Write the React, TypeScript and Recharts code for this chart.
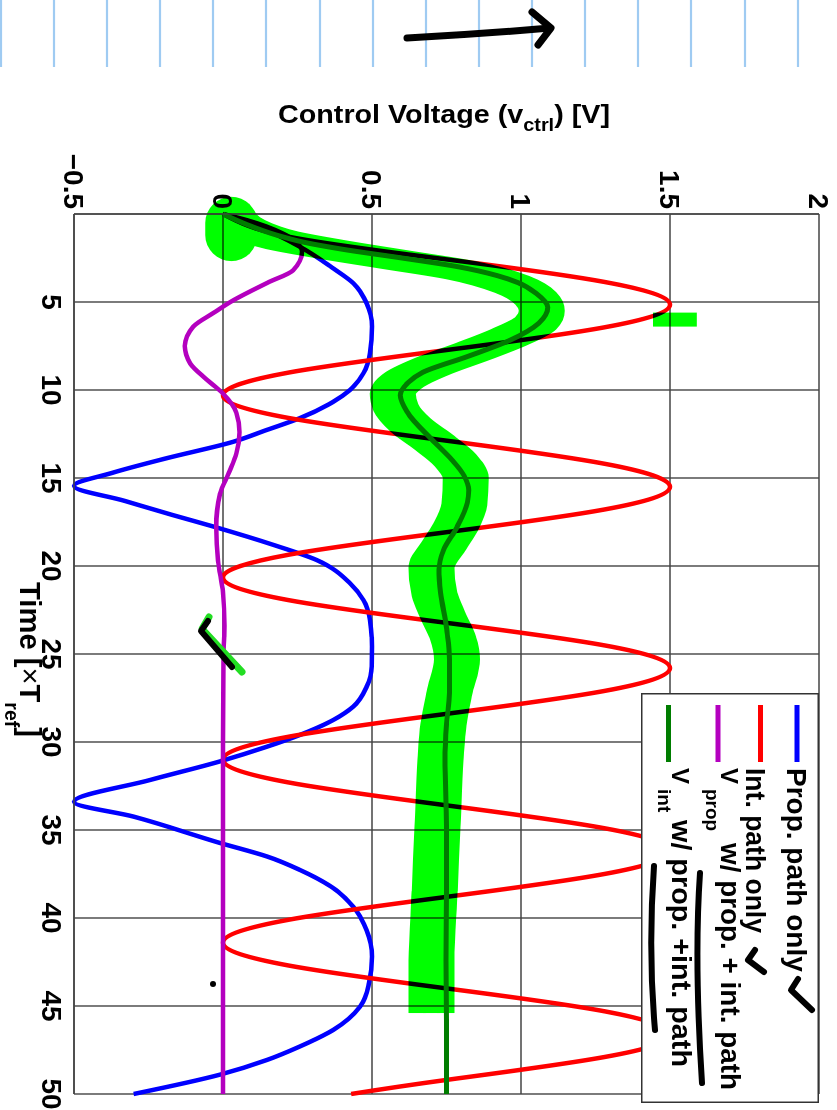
import React from 'react';
import { LineChart, Line, XAxis, YAxis, CartesianGrid } from 'recharts';

const FONT = '"Liberation Sans", Arial, Helvetica, sans-serif';

// ---- axes ----
const timeTicks = [5, 10, 15, 20, 25, 30, 35, 40, 45, 50];
const voltTicks = [-0.5, 0, 0.5, 1, 1.5, 2];
const voltTickLabels = ['\u22120.5', '0', '0.5', '1', '1.5', '2'];

// ---- series: Prop. path only (blue) ----
const propOnlyT = [0, 0.8, 1.86, 3.09, 3.93, 5.07, 6.4, 7.9, 9.05, 10.0, 10.67, 11.6, 12.27, 12.94, 13.88, 14.7, 15.45, 16.3, 17.1, 17.77, 18.8, 19.66, 20.98, 21.93, 23.07, 24.58, 25.7, 26.86, 27.99, 28.75, 29.6, 30.27, 31.1, 32.16, 33.4, 34.24, 35.74, 36.5, 37.27, 38.3, 39.36, 40.7, 42.2, 43.7, 45.04, 46.36, 47.3, 48.07, 48.9, 50];
const propOnlyV = [0, 0.13, 0.258, 0.37, 0.437, 0.482, 0.5, 0.493, 0.471, 0.426, 0.37, 0.258, 0.147, 0.035, -0.19, -0.37, -0.5, -0.33, -0.17, -0.03, 0.169, 0.314, 0.426, 0.471, 0.493, 0.5, 0.499, 0.482, 0.437, 0.37, 0.258, 0.147, -0.01, -0.245, -0.5, -0.3, -0.01, 0.147, 0.258, 0.37, 0.437, 0.482, 0.5, 0.49, 0.46, 0.37, 0.258, 0.147, -0.01, -0.3];

// ---- series: Int. path only (red) ----
const intOnlyT = [0, 1.29, 2.58, 3.86, 5.15, 6.44, 7.73, 9.01, 10.3, 11.59, 12.88, 14.19, 15.5, 16.79, 18.08, 19.36, 20.65, 21.94, 23.23, 24.51, 25.8, 27.1, 28.4, 29.7, 31.0, 32.3, 33.6, 34.9, 36.2, 37.5, 38.8, 40.1, 41.4, 42.7, 44.0, 45.3, 46.6, 47.9, 49.2, 50];
const intOnlyV = [0, 0.22, 0.75, 1.28, 1.5, 1.28, 0.75, 0.22, 0, 0.22, 0.75, 1.28, 1.5, 1.28, 0.75, 0.22, 0, 0.22, 0.75, 1.28, 1.5, 1.28, 0.75, 0.22, 0, 0.22, 0.75, 1.28, 1.5, 1.28, 0.75, 0.22, 0, 0.22, 0.75, 1.28, 1.5, 1.28, 0.75, 0.43];

// ---- series: V_prop w/ prop. + int. path (magenta) ----
const vPropT = [0, 0.35, 1.1, 2.15, 3.2, 3.9, 4.9, 5.6, 6.4, 7.5, 8.5, 9.4, 10.2, 11.3, 12.4, 13.6, 14.7, 15.9, 17.8, 19.7, 21.5, 23.4, 25, 30, 40, 50];
const vPropV = [0, 0.08, 0.2, 0.265, 0.235, 0.15, 0.035, -0.03, -0.1, -0.128, -0.11, -0.055, 0, 0.045, 0.055, 0.045, 0.02, -0.01, -0.023, -0.017, 0, 0.005, 0.002, 0, 0, 0];

// ---- series: V_int w/ prop. + int. path (dark green) ----
const vIntT = [0, 0.6, 1.2, 1.6, 2.0, 2.5, 3.0, 3.5, 3.9, 4.5, 5.3, 6.2, 7.2, 8.1, 9.0, 9.6, 10.3, 11.3, 12.8, 14.0, 14.9, 15.7, 16.4, 17.8, 19.1, 20.2, 21.5, 23.5, 25.3, 27.2, 29, 31, 34.8, 38, 42.4, 46, 50];
const vIntV = [0, 0.08, 0.18, 0.27, 0.4, 0.6, 0.79, 0.92, 0.99, 1.05, 1.09, 1.06, 0.96, 0.82, 0.67, 0.62, 0.595, 0.62, 0.7, 0.77, 0.81, 0.825, 0.82, 0.785, 0.74, 0.725, 0.73, 0.75, 0.76, 0.76, 0.75, 0.745, 0.75, 0.75, 0.748, 0.75, 0.75];

// ---- hand-drawn highlighter trace ----
const highlightT = [0, 0.8, 1.5, 2.0, 2.6, 3.2, 4.0, 4.8, 5.5, 6.2, 7.0, 7.8, 8.6, 9.4, 10.2, 11.0, 12.0, 13.0, 14.0, 15.0, 16.5, 17.8, 18.75, 20.1, 21.6, 22.9, 24.0, 25.3, 27.2, 29, 31, 34.8, 38.6, 42.4, 45.4];
const highlightV = [0.03, 0.08, 0.2, 0.36, 0.58, 0.8, 0.97, 1.05, 1.07, 1.05, 0.96, 0.84, 0.71, 0.61, 0.57, 0.58, 0.63, 0.71, 0.78, 0.815, 0.81, 0.78, 0.745, 0.7, 0.71, 0.74, 0.77, 0.785, 0.76, 0.74, 0.73, 0.72, 0.71, 0.7, 0.7];
const highlightStartT = [0.5, 1.2];
const highlightStartV = [0.028, 0.028];
const highlightDabT = [6.0, 6.0];
const highlightDabV = [1.443, 1.59];

const seriesNames = ['Prop. path only', 'Int. path only', 'V_prop w/ prop. + int. path', 'V_int w/ prop. +int. path'];
const seriesColors = ['#0000ff', '#ff0000', '#b400bf', '#007d00'];

const zip = (ts: number[], vs: number[]) => ts.map((t, i) => ({ t, v: vs[i] }));

const propOnlyData = zip(propOnlyT, propOnlyV);
const intOnlyData = zip(intOnlyT, intOnlyV);
const vPropData = zip(vPropT, vPropV);
const vIntData = zip(vIntT, vIntV);
const highlightData = zip(highlightT, highlightV);
const highlightStart = zip(highlightStartT, highlightStartV);
const highlightDab = zip(highlightDabT, highlightDabV);

const TimeTick = (props: any) => (
  <text x={props.x} y={795} textAnchor="middle" fontSize={28} fontWeight="bold" fill="#000" fontFamily={FONT}>
    {props.payload.value}
  </text>
);

const VoltTick = (props: any) => {
  const idx = voltTicks.indexOf(props.payload.value);
  return (
    <text x={209} y={props.y + 10} textAnchor="end" fontSize={28} fontWeight="bold" fill="#000" fontFamily={FONT}>
      {idx >= 0 ? voltTickLabels[idx] : props.payload.value}
    </text>
  );
};

const notebookLines = [1, 54, 107, 160, 213, 266, 320, 373, 426, 479, 532, 585, 638, 691, 745, 798];

const hlCommon = {
  dataKey: 'v',
  stroke: '#00ff00',
  dot: false,
  activeDot: false,
  isAnimationActive: false,
  legendType: 'none' as const,
};

export default function App() {
  const txt = { fontFamily: FONT, fontWeight: 'bold' as const, fill: '#000' };
  return (
    <div style={{ position: 'absolute', left: 0, top: 0, width: 837, height: 1110, overflow: 'hidden', background: '#fff' }}>
      <style>{`
        .hl { mix-blend-mode: multiply; }
        .hl-a { transform: translateY(-14px); }
        .hl-b { transform: translateY(14px); }
      `}</style>
      {/* chart drawn in its natural orientation, then turned 90deg clockwise */}
      <div style={{ position: 'absolute', left: 0, top: 0, width: 1110, height: 837, transformOrigin: '0 0', transform: 'translate(837px, 0px) rotate(90deg)' }}>
        <LineChart width={1110} height={837} margin={{ top: 18, right: 16, left: 0, bottom: 0 }}>
          <CartesianGrid stroke="#444" strokeWidth={1.4} />
          <XAxis type="number" dataKey="t" domain={[0, 50]} ticks={timeTicks} height={74} tick={TimeTick} tickLine={false} axisLine={{ stroke: '#444', strokeWidth: 1.4 }} />
          <YAxis type="number" dataKey="v" domain={[-0.5, 2]} ticks={voltTicks} width={214} tick={VoltTick} tickLine={false} axisLine={{ stroke: '#444', strokeWidth: 1.4 }} />
          <Line data={propOnlyData} dataKey="v" name={seriesNames[0]} stroke={seriesColors[0]} strokeWidth={4.5} type="monotone" dot={false} activeDot={false} isAnimationActive={false} />
          <Line data={intOnlyData} dataKey="v" name={seriesNames[1]} stroke={seriesColors[1]} strokeWidth={4.5} type="natural" dot={false} activeDot={false} isAnimationActive={false} />
          <Line data={vPropData} dataKey="v" name={seriesNames[2]} stroke={seriesColors[2]} strokeWidth={4.5} type="monotone" dot={false} activeDot={false} isAnimationActive={false} />
          <Line data={vIntData} dataKey="v" name={seriesNames[3]} stroke={seriesColors[3]} strokeWidth={5} type="monotone" dot={false} activeDot={false} isAnimationActive={false} />
          <Line {...hlCommon} data={highlightData} className="hl hl-a" strokeWidth={18} strokeLinecap="butt" strokeLinejoin="round" type="monotone" />
          <Line {...hlCommon} data={highlightData} className="hl" strokeWidth={18} strokeLinecap="butt" strokeLinejoin="round" type="monotone" />
          <Line {...hlCommon} data={highlightData} className="hl hl-b" strokeWidth={18} strokeLinecap="butt" strokeLinejoin="round" type="monotone" />
          <Line {...hlCommon} data={highlightStart} className="hl" strokeWidth={52} strokeLinecap="round" type="linear" />
          <Line {...hlCommon} data={highlightDab} className="hl" strokeWidth={14} strokeLinecap="butt" type="linear" />
        </LineChart>

        {/* x-axis title */}
        <svg width={1110} height={837} style={{ position: 'absolute', left: 0, top: 0, pointerEvents: 'none' }}>
          <text x={582} y={817} fontSize={30} {...txt} textLength={155} lengthAdjust="spacingAndGlyphs">
            Time [<tspan fontWeight="normal">×</tspan>T<tspan fontSize={20} dy={15}>ref</tspan><tspan dy={-15}>]</tspan>
          </text>
        </svg>

        {/* legend */}
        <svg width={411} height={179} style={{ position: 'absolute', left: 693, top: 18 }}>
          <rect x={0.75} y={0.75} width={408.5} height={176.5} fill="#fff" stroke="#333" strokeWidth={1.5} />
          <line x1={12} x2={69} y1={22} y2={22} stroke={seriesColors[0]} strokeWidth={5} />
          <line x1={12} x2={69} y1={58.5} y2={58.5} stroke={seriesColors[1]} strokeWidth={5} />
          <line x1={12} x2={69} y1={101} y2={101} stroke={seriesColors[2]} strokeWidth={5} />
          <line x1={12} x2={69} y1={150.5} y2={150.5} stroke={seriesColors[3]} strokeWidth={5} />
          <text x={75} y={32} fontSize={28} {...txt}>{seriesNames[0]}</text>
          <text x={75} y={73} fontSize={28} {...txt} textLength={165} lengthAdjust="spacingAndGlyphs">{seriesNames[1]}</text>
          <text x={75} y={98} fontSize={24} {...txt}>V</text>
          <text x={96} y={113} fontSize={19} {...txt}>prop</text>
          <text x={150} y={98} fontSize={28} {...txt} textLength={247} lengthAdjust="spacingAndGlyphs">w/ prop. + int. path</text>
          <text x={75} y={147} fontSize={24} {...txt}>V</text>
          <text x={96} y={161} fontSize={19} {...txt}>int</text>
          <text x={127} y={147} fontSize={28} {...txt} textLength={247} lengthAdjust="spacingAndGlyphs">w/ prop. +int. path</text>
        </svg>
      </div>

      {/* page overlay: notebook rules, title and hand-written marks */}
      <svg width={837} height={1110} style={{ position: 'absolute', left: 0, top: 0, pointerEvents: 'none' }}>
        {notebookLines.map((x) => (
          <line key={x} x1={x} x2={x} y1={0} y2={67} stroke="#9fcbf2" strokeWidth={2.2} />
        ))}
        <path d="M407 38 Q480 34 550 28" stroke="#000" strokeWidth={7} fill="none" strokeLinecap="round" />
        <path d="M532 12 L551 28 L538 45" stroke="#000" strokeWidth={7} fill="none" strokeLinecap="round" strokeLinejoin="round" />
        <text x={278} y={123} fontSize={26} {...txt} textLength={332} lengthAdjust="spacingAndGlyphs">
          Control Voltage (v<tspan fontSize={18} dy={8}>ctrl</tspan><tspan dy={-8}>) [V]</tspan>
        </text>
        {/* check marks in legend */}
        <path d="M798 979 L791 990 L812 1010" stroke="#000" strokeWidth={6} fill="none" strokeLinecap="round" strokeLinejoin="round" />
        <path d="M755 950 L748 960 L764 972" stroke="#000" strokeWidth={6} fill="none" strokeLinecap="round" strokeLinejoin="round" />
        {/* underlines in legend */}
        <path d="M700 873 Q694 960 702 1083" stroke="#000" strokeWidth={6} fill="none" strokeLinecap="round" />
        <path d="M654 866 Q648 950 655 1030" stroke="#000" strokeWidth={6} fill="none" strokeLinecap="round" />
        {/* check mark on the magenta trace */}
        <path d="M209 617 L202 629 L242 672" stroke="#22dd22" strokeWidth={7} fill="none" strokeLinecap="round" strokeLinejoin="round" />
        <path d="M208 621 L201 631 L232 667" stroke="#000" strokeWidth={6} fill="none" strokeLinecap="round" strokeLinejoin="round" />
        <circle cx={213} cy={984} r={3} fill="#000" />
      </svg>
    </div>
  );
}
